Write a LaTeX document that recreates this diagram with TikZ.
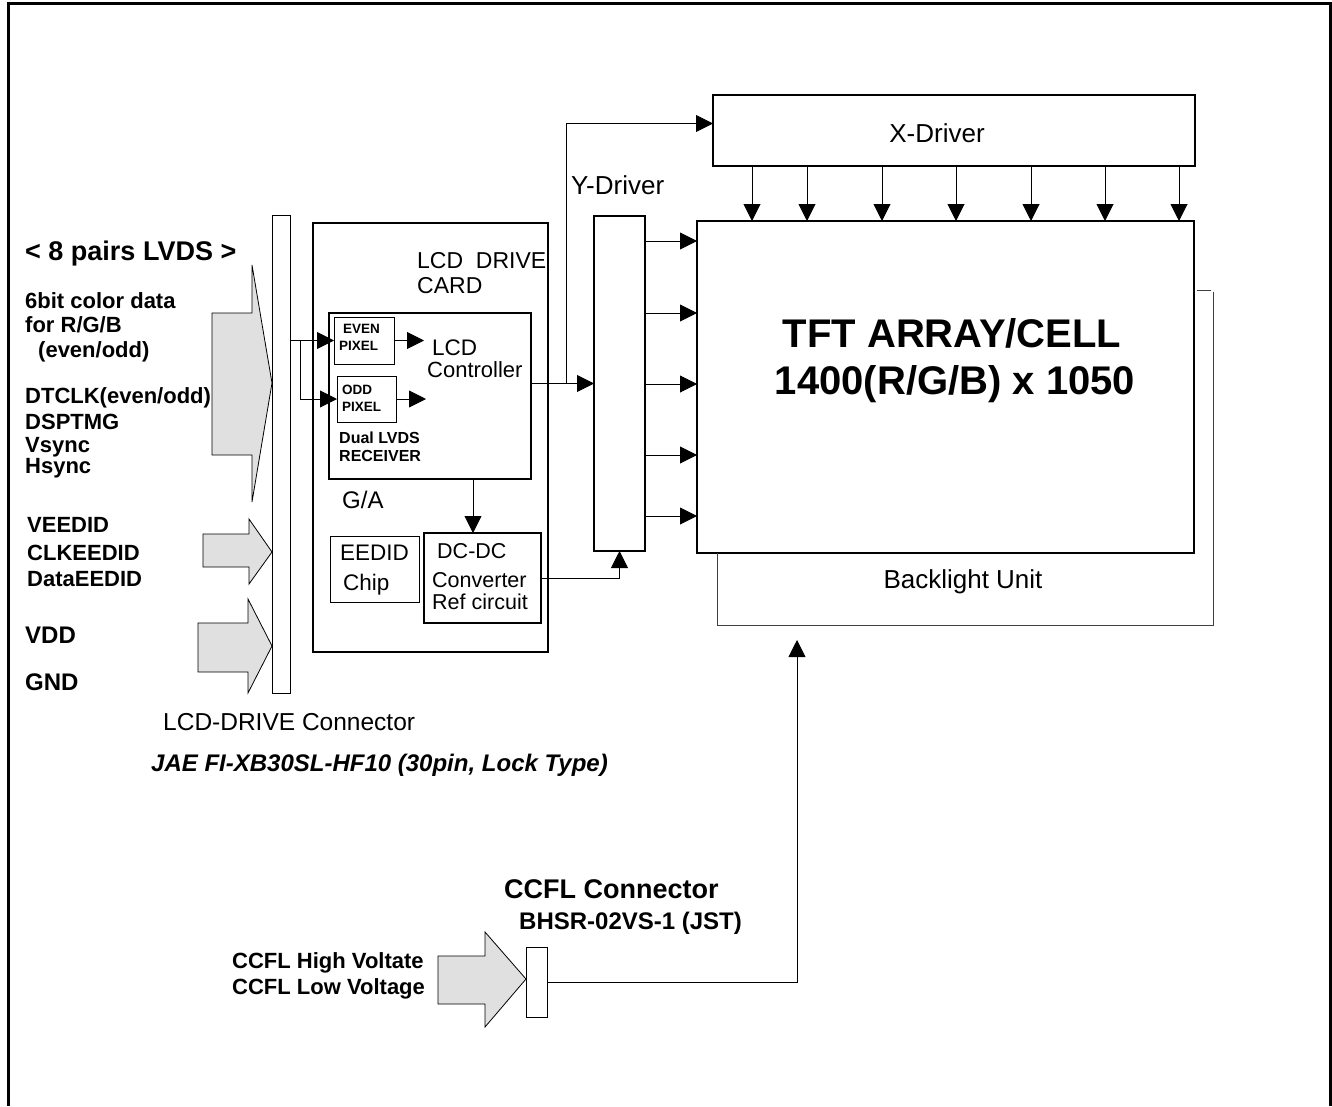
\documentclass[tikz,border=0pt]{standalone}
\usepackage{fontspec}
\setmainfont{Liberation Sans}
\usetikzlibrary{arrows.meta,positioning}
\definecolor{padgray}{RGB}{224,224,224}

\begin{document}
\begin{tikzpicture}[x=1pt,y=-1pt,
  heavy/.style={draw, line width=2.6pt, inner sep=0pt, outer sep=0pt, anchor=north west},
  light/.style={draw, line width=1pt, inner sep=0pt, outer sep=0pt, anchor=north west},
  txt/.style={inner sep=0pt, anchor=west, font=\fontsize{#1}{#1}\selectfont},
  btxt/.style={inner sep=0pt, anchor=west, font=\fontsize{#1}{#1}\selectfont\bfseries},
  ctxt/.style={inner sep=0pt, font=\fontsize{#1}{#1}\selectfont},
  arr/.style={-{Triangle[length=17pt,width=17pt]}, line width=0.9pt},
  wire/.style={line width=0.9pt, draw=black!75},
  fat/.style={draw, line width=0.8pt, fill=padgray, line join=miter},
]
\useasboundingbox (0,0) rectangle (1332,1106);

%% -- frame --
\draw[line width=3pt] (8,1106) -- (8,3) -- (1330,3) -- (1330,1106);

%% -- blocks --
\node[light, minimum width=18pt, minimum height=478pt] (lvdsconn) at (272,215) {};
\node[heavy, minimum width=235pt, minimum height=429pt] (card) at (313,223) {};
\node[heavy, minimum width=202pt, minimum height=166pt] (ga) at (329,313) {};
\node[light, minimum width=60pt, minimum height=47pt] (even) at (334,317) {};
\node[light, minimum width=59pt, minimum height=46pt] (odd) at (337,376) {};
\node[light, minimum width=89pt, minimum height=66pt] (eedid) at (330,536) {};
\node[heavy, minimum width=117pt, minimum height=90pt] (dcdc) at (424,533) {};
\node[heavy, minimum width=51pt, minimum height=335pt] (ydrv) at (594,216) {};
\node[heavy, minimum width=482pt, minimum height=71pt] (xdrv) at (713,95) {};
\node[heavy, minimum width=497pt, minimum height=332pt] (tft) at (697,221) {};
\node[light, minimum width=21pt, minimum height=70pt] (ccflconn) at (526,947) {};

%% -- backlight outline --
\draw[wire] (tft.south -| 717,0) -- (717,625) -- (1213,625) -- (1213,292);
\draw[wire] ([xshift=3pt]tft.east |- 0,290) -- (1211,290);

%% -- fat input arrows --
\draw[fat] (212,313) -- (252,313) -- (252,265) -- (lvdsconn.west |- 0,383)
  -- (252,502) -- (252,455) -- (212,455) -- cycle;
\draw[fat] (203,534) -- (249,534) -- (249,519) -- (lvdsconn.west |- 0,552)
  -- (249,584) -- (249,567) -- (203,567) -- cycle;
\draw[fat] (198,623) -- (248,623) -- (248,599) -- (lvdsconn.west |- 0,646)
  -- (248,693) -- (248,672) -- (198,672) -- cycle;
\draw[fat] (438,956) -- (485,956) -- (485,932) -- (ccflconn.west |- 0,979)
  -- (485,1027) -- (485,1004) -- (438,1004) -- cycle;

%% -- labels, left --
\node[btxt=27] (lvdslbl) at (25,254) {< 8 pairs LVDS >};
\node[btxt=22] (col1) at (25,301) {6bit color data};
\node[btxt=22] (col2) at (25,325) {for R/G/B};
\node[btxt=22] (col3) at (38,352) {(even/odd)};
\node[btxt=22] (sig1) at (25,398) {DTCLK(even/odd)};
\node[btxt=22] (sig2) at (25,422) {DSPTMG};
\node[btxt=22] (sig3) at (25,447) {Vsync};
\node[btxt=22] (sig4) at (25,468) {Hsync};
\node[btxt=22] (ed1) at (27,525) {VEEDID};
\node[btxt=22] (ed2) at (27,553) {CLKEEDID};
\node[btxt=22] (ed3) at (27,579) {DataEEDID};
\node[btxt=24] (vdd) at (25,635) {VDD};
\node[btxt=24] (gnd) at (25,682) {GND};
\node[txt=24.5] (connlbl) at (163,722) {LCD-DRIVE Connector};
\node[btxt=24, font=\fontsize{24}{24}\selectfont\bfseries\itshape] (connpart) at (151,765)
  {JAE FI-XB30SL-HF10 (30pin, Lock Type)};

%% -- labels, drive card --
\node[txt=23] (cardl1) at (417,261) {LCD\ \ DRIVE};
\node[txt=23] (cardl2) at (417,286) {CARD};
\node[btxt=13.5] (evenl1) at (343,329) {EVEN};
\node[btxt=13.5] (evenl2) at (339,346) {PIXEL};
\node[btxt=13.5] (oddl1) at (342,390) {ODD};
\node[btxt=13.5] (oddl2) at (342,407) {PIXEL};
\node[txt=22.5] (ctll1) at (432,348) {LCD};
\node[txt=22] (ctll2) at (427,370) {Controller};
\node[btxt=16] (rxl1) at (339,438) {Dual LVDS};
\node[btxt=16] (rxl2) at (339,456) {RECEIVER};
\node[txt=24] (galbl) at (342,500) {G/A};
\node[txt=22.5] (eedl1) at (340,553) {EEDID};
\node[txt=22.5] (eedl2) at (343,585) {Chip};
\node[txt=21.5] (dcl1) at (437,551) {DC-DC};
\node[txt=21.5] (dcl2) at (432,580) {Converter};
\node[txt=21.5] (dcl3) at (432,602) {Ref circuit};

%% -- labels, panel --
\node[txt=26] (ylbl) at (571,185) {Y-Driver};
\node[ctxt=26] (xlbl) at (937,133) {X-Driver};
\node[ctxt=40, font=\fontsize{40}{40}\selectfont\bfseries] (tftl1) at (952,333) {TFT ARRAY/CELL};
\node[ctxt=40, font=\fontsize{40}{40}\selectfont\bfseries] (tftl2) at (955,384) {1400(R/G/B) x 1050};
\node[ctxt=26] (blulbl) at (963,582) {Backlight Unit};

%% -- labels, CCFL --
\node[btxt=27] (ccfll1) at (504,889) {CCFL Connector};
\node[btxt=24] (ccfll2) at (519,923) {BHSR-02VS-1 (JST)};
\node[btxt=22] (hv) at (232,963) {CCFL High Voltate};
\node[btxt=22] (lv) at (232,989) {CCFL Low Voltage};

%% -- connectors --
\coordinate (split) at (300,340.5);
\coordinate (ctlin1) at (424,340.5);
\coordinate (ctlin2) at (426,399);
\coordinate (tap) at (566,383.5);
\coordinate (bluin) at (797,640);

\draw[arr] (lvdsconn.east |- even.west) -- (even.west);
\draw[arr] (split) |- (odd.west);
\draw[arr] (even.east) -- (ctlin1);
\draw[arr] (odd.east) -- (ctlin2);
\draw[arr] (ga.east |- ydrv.west) -- (ydrv.west);
\draw[arr] (tap) |- ([yshift=7pt]xdrv.west);
\draw[arr] ([xshift=43pt]ga.south) -- ([xshift=43pt]ga.south |- dcdc.north);
\draw[arr] (dcdc.east) -| (ydrv.south);
\foreach \yy in {241,313,384,455,516}
  \draw[arr] (ydrv.east |- 0,\yy) -- (tft.west |- 0,\yy);
\foreach \xx in {752,807,882,956,1031,1105,1179}
  \draw[arr] (\xx,0 |- xdrv.south) -- (\xx,0 |- tft.north);
\draw[arr] (ccflconn.east) -| (bluin);
\end{tikzpicture}
\end{document}
